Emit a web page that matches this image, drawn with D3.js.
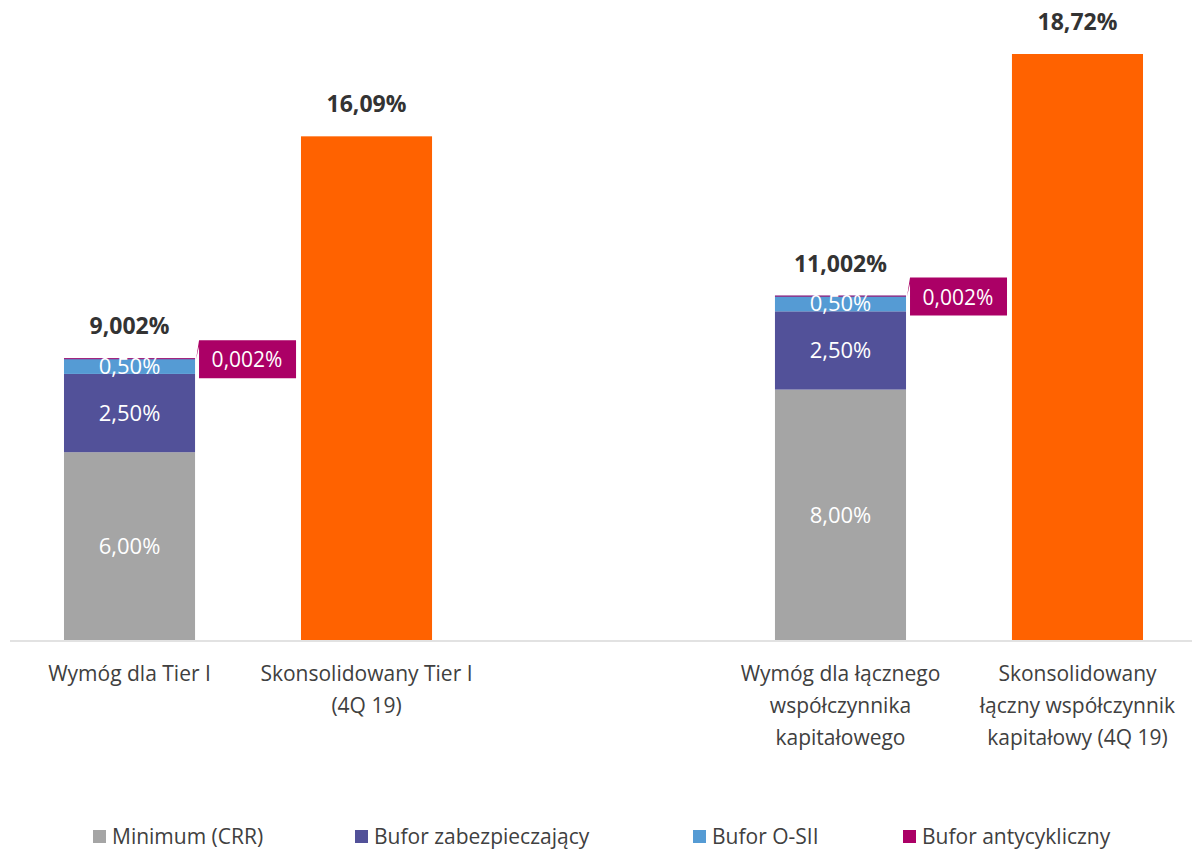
<!DOCTYPE html>
<html>
<head>
<meta charset="utf-8">
<script src="https://cdn.jsdelivr.net/npm/d3@7"></script>
<style>
  body { margin: 0; background: #fff; }
  svg { display: block; font-family: "Open Sans", sans-serif; }
</style>
</head>
<body>
<svg id="chart" width="1192" height="852"></svg>
<script>
            // categories (one empty slot between the two groups)
            var categories = [
                ["Wymóg dla Tier I"],
                ["Skonsolidowany Tier I", "(4Q 19)"],
                [],
                ["Wymóg dla łącznego", "współczynnika", "kapitałowego"],
                ["Skonsolidowany", "łączny współczynnik", "kapitałowy (4Q 19)"]
            ];
            var seriesNames = ["Minimum (CRR)", "Bufor zabezpieczający", "Bufor O-SII", "Bufor antycykliczny"];
            var minimum   = [6.00, 0, 0, 8.00, 0];
            var zabezp    = [2.50, 0, 0, 2.50, 0];
            var osii      = [0.50, 0, 0, 0.50, 0];
            var antycykl  = [0.002, 0, 0, 0.002, 0];
            var skons     = [0, 16.09, 0, 0, 18.72];
            var totalLabels = ["9,002%", "16,09%", "", "11,002%", "18,72%"];

            var colors = ["#a5a5a5", "#525199", "#559bd4", "#ab0066"];
            var orange = "#ff6200";

            var w = 1192, h = 852;
            var baseY = 640;

            var svg = d3.select("#chart");

            var x = d3.scaleBand()
                .domain(d3.range(categories.length))
                .range([11, 1196])
                .paddingInner(0.447)
                .paddingOuter(0.2236);

            var y = d3.scaleLinear()
                .domain([0, 18.72])
                .range([baseY, 54]);

            var fmt = function(v) { return d3.format(".2f")(v).replace(".", ",") + "%"; };

            // stacked bars
            var stackData = d3.range(categories.length).map(function(i) {
                return { i: i, s0: minimum[i], s1: zabezp[i], s2: osii[i], s3: antycykl[i] };
            });
            var stack = d3.stack().keys(["s0", "s1", "s2", "s3"]);
            var layers = stack(stackData);

            svg.selectAll("g.layer")
               .data(layers)
               .enter()
               .append("g")
               .attr("class", "layer")
               .attr("fill", function(d, k) { return colors[k]; })
               .selectAll("rect")
               .data(function(d) { return d.filter(function(p) { return p[1] - p[0] > 0; }); })
               .enter()
               .append("rect")
               .attr("x", function(d) { return x(d.data.i); })
               .attr("y", function(d) { return y(d[1]); })
               .attr("width", x.bandwidth())
               .attr("height", function(d) { return Math.max(y(d[0]) - y(d[1]), 1); });

            // segment labels (white)
            layers.slice(0, 3).forEach(function(layer) {
                svg.selectAll(null)
                   .data(layer.filter(function(p) { return p[1] - p[0] > 0; }))
                   .enter()
                   .append("text")
                   .text(function(d) { return fmt(d[1] - d[0]); })
                   .attr("text-anchor", "middle")
                   .attr("x", function(d) { return x(d.data.i) + x.bandwidth() / 2; })
                   .attr("y", function(d) { return (y(d[0]) + y(d[1])) / 2 + 8; })
                   .attr("font-size", "22px")
                   .attr("fill", "#ffffff");
            });

            // consolidated bars
            svg.selectAll("rect.skons")
               .data(d3.range(categories.length).filter(function(i) { return skons[i] > 0; }))
               .enter()
               .append("rect")
               .attr("class", "skons")
               .attr("x", function(i) { return x(i); })
               .attr("y", function(i) { return y(skons[i]); })
               .attr("width", x.bandwidth())
               .attr("height", function(i) { return baseY - y(skons[i]); })
               .attr("fill", orange);

            // totals
            svg.selectAll("text.total")
               .data(d3.range(categories.length).filter(function(i) { return totalLabels[i] !== ""; }))
               .enter()
               .append("text")
               .attr("class", "total")
               .text(function(i) { return totalLabels[i]; })
               .attr("text-anchor", "middle")
               .attr("x", function(i) { return x(i) + x.bandwidth() / 2; })
               .attr("y", function(i) {
                   var top = minimum[i] + zabezp[i] + osii[i] + antycykl[i] + skons[i];
                   return y(top) - 24;
               })
               .attr("font-size", "23px")
               .attr("font-weight", "bold")
               .attr("fill", "#333333");

            // callouts for the countercyclical buffer
            var callIdx = d3.range(categories.length).filter(function(i) { return antycykl[i] > 0; });
            var callG = svg.selectAll("g.callout")
               .data(callIdx)
               .enter()
               .append("g")
               .attr("class", "callout")
               .attr("transform", function(i) {
                   var top = minimum[i] + zabezp[i] + osii[i] + antycykl[i];
                   return "translate(" + (x(i) + x.bandwidth()) + "," + y(top) + ")";
               });
            callG.append("path")
               .attr("d", "M1,1 L4,-18 L101,-18 L101,20 L4,20 L4,-12 Z")
               .attr("fill", colors[3]);
            callG.append("text")
               .text(function(i) { return d3.format(".3f")(antycykl[i]).replace(".", ",") + "%"; })
               .attr("x", 52)
               .attr("y", 9)
               .attr("text-anchor", "middle")
               .attr("font-size", "21px")
               .attr("fill", "#ffffff");

            // baseline
            svg.append("line")
               .attr("x1", 10).attr("x2", w)
               .attr("y1", baseY + 1).attr("y2", baseY + 1)
               .attr("stroke", "#d9d9d9")
               .attr("stroke-width", 1.5);

            // category labels
            var catG = svg.selectAll("text.cat")
               .data(categories)
               .enter()
               .append("text")
               .attr("class", "cat")
               .attr("text-anchor", "middle")
               .attr("font-size", "21px")
               .attr("fill", "#404040")
               .attr("x", function(d, i) { return x(i) + x.bandwidth() / 2; });
            catG.selectAll("tspan")
               .data(function(d) { return d; })
               .enter()
               .append("tspan")
               .attr("x", function() { return this.parentNode.getAttribute("x"); })
               .attr("y", function(d, k) { return 681 + k * 32; })
               .text(function(d) { return d; });

            // legend
            var legendX = [93, 355, 693, 903];
            var leg = svg.selectAll("g.legend")
               .data(seriesNames)
               .enter()
               .append("g")
               .attr("class", "legend")
               .attr("transform", function(d, k) { return "translate(" + legendX[k] + ",830)"; });
            leg.append("rect")
               .attr("width", 13).attr("height", 13)
               .attr("fill", function(d, k) { return colors[k]; });
            leg.append("text")
               .text(function(d) { return d; })
               .attr("x", 19)
               .attr("y", 14)
               .attr("font-size", "21px")
               .attr("fill", "#404040");
</script>
</body>
</html>
